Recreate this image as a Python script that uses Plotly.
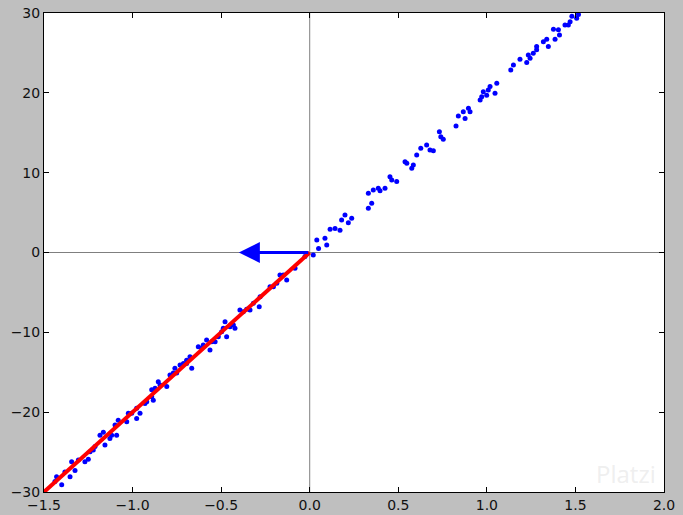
import plotly.graph_objects as go

# scatter data
x_pts = [-1.438, -1.4, -1.429, -1.382, -1.353, -1.344, -1.325, -1.306, -1.269, -1.25,
         -1.24, -1.222, -1.212, -1.184, -1.165, -1.156, -1.128, -1.118, -1.099, -1.09,
         -1.081, -1.033, -1.024, -1.005, -0.977, -0.977, -0.958, -0.93, -0.92, -0.892,
         -0.892, -0.883, -0.873, -0.855, -0.845, -0.807, -0.789, -0.77, -0.761, -0.751,
         -0.732, -0.713, -0.695, -0.695, -0.676, -0.666, -0.629, -0.61, -0.601, -0.582,
         -0.563, -0.553, -0.534, -0.516, -0.497, -0.488, -0.478, -0.469, -0.45, -0.431,
         -0.422, -0.394, -0.375, -0.356, -0.337, -0.318, -0.285, -0.28, -0.224, -0.205,
         -0.186, -0.168, -0.149, -0.13, -0.083, -0.027, 0.02,
         0.04, 0.086, 0.05, 0.096, 0.115, 0.143, 0.171, 0.18, 0.199, 0.237,
         0.218, 0.331, 0.35, 0.331, 0.359, 0.387, 0.397, 0.425, 0.453, 0.463,
         0.491, 0.538, 0.548, 0.576, 0.585, 0.604, 0.627, 0.66, 0.679, 0.698,
         0.732, 0.74, 0.754, 0.826, 0.839, 0.867, 0.877, 0.896, 0.905, 0.962,
         0.971, 0.98, 0.999, 1.008, 1.018, 1.046, 1.056, 1.135, 1.15, 1.187,
         1.225, 1.234, 1.244, 1.262, 1.281, 1.281, 1.319, 1.338, 1.347, 1.376,
         1.404, 1.385, 1.41, 1.441, 1.47, 1.46, 1.48, 1.507, 1.517]
y_pts = [-28.7, -29.1, -28.1, -27.5, -28.1, -26.2, -27.3, -26.0, -26.2, -25.9,
         -24.96, -24.75, -24.3, -22.9, -22.5, -24.1, -23.3, -22.9, -21.6, -22.9,
         -21.0, -21.2, -20.15, -20.15, -19.5, -20.8, -20.15, -18.9, -18.7, -18.07,
         -17.2, -18.5, -17.0, -16.2, -16.6, -16.8, -15.35, -15.1, -14.5, -15.1,
         -14.1, -13.9, -13.5, -13.9, -13.05, -14.5, -11.8, -12.0, -11.6, -10.96,
         -12.2, -11.17, -11.17, -10.55, -9.92, -9.5, -8.67, -10.55, -9.3, -9.08,
         -9.5, -7.2, -7.42, -7.12, -7.2, -6.37, -6.8, -5.54, -4.28, -4.28,
         -3.86, -2.82, -2.82, -3.45, -1.98, -0.5, -0.3,
         1.57, 1.78, 0.5, 0.94, 2.9, 3.0, 2.8, 4.07, 4.7, 4.28,
         3.74, 5.54, 6.16, 7.42, 7.83, 8.04, 7.74, 8.04, 9.5, 9.08,
         8.88, 11.38, 11.17, 10.55, 10.96, 12.2, 13.05, 13.47, 12.84, 12.76,
         15.14, 14.5, 14.18, 15.85, 17.1, 17.64, 16.8, 18.07, 17.64, 19.1,
         19.5, 20.15, 19.7, 20.36, 20.78, 19.95, 21.2, 22.87, 23.5, 24.2,
         23.8, 24.75, 24.33, 24.96, 25.8, 25.4, 26.4, 26.7, 25.8, 27.97,
         27.9, 26.7, 27.25, 28.5, 28.9, 28.5, 29.6, 29.35, 29.8]

# red fitted line
line_x = [-1.5, 0.0]
line_y = [-30.0, 0.0]

# arrow (from origin to tip)
arrow_tail = (0.0, 0.0)
arrow_tip = (-0.4, 0.0)

# axis ticks
x_ticks = [-1.5, -1.0, -0.5, 0.0, 0.5, 1.0, 1.5, 2.0]
y_ticks = [-30, -20, -10, 0, 10, 20, 30]

fig = go.Figure()

fig.add_trace(go.Scatter(x=x_pts, y=y_pts, mode="markers",
                         marker=dict(color="#0000ff", size=5, line=dict(width=0)),
                         showlegend=False))
fig.add_trace(go.Scatter(x=line_x, y=line_y, mode="lines",
                         line=dict(color="#ff0000", width=4),
                         showlegend=False))

# axis lines through origin
fig.add_hline(y=0, line=dict(color="#7f7f7f", width=1), layer="below")
fig.add_vline(x=0, line=dict(color="#7f7f7f", width=1), layer="below")

fig.add_annotation(x=arrow_tip[0], y=arrow_tip[1], ax=arrow_tail[0], ay=arrow_tail[1],
                   xref="x", yref="y", axref="x", ayref="y",
                   showarrow=True, arrowhead=2, arrowsize=1.4, arrowwidth=3,
                   arrowcolor="#0000ff", text="")

# faint watermark
fig.add_annotation(x=0.99, y=0.0, xref="paper", yref="paper", xanchor="right",
                   yanchor="bottom", text="Platzi", showarrow=False,
                   font=dict(family="Open Sans", size=24, color="rgba(225,225,225,0.55)"))

axis_common = dict(showline=True, linecolor="black", linewidth=1, mirror="allticks",
                   ticks="inside", ticklen=5, tickcolor="black", showgrid=False,
                   zeroline=False, automargin=False,
                   tickfont=dict(family="DejaVu Sans", size=14, color="#111"))

fig.update_xaxes(range=[-1.5, 2.0], tickvals=x_ticks,
                 ticktext=[f"{v:.1f}".replace("-", "\u2212") for v in x_ticks], **axis_common)
fig.update_yaxes(range=[-30, 30], tickvals=y_ticks,
                 ticktext=[str(v).replace("-", "\u2212") for v in y_ticks], **axis_common)

fig.update_layout(width=683, height=515, paper_bgcolor="#bfbfbf", plot_bgcolor="white",
                  margin=dict(l=44, r=19, t=13, b=23, pad=0), showlegend=False)

fig.write_html("out.html", config={"displayModeBar": False},
               post_script="document.body.style.margin='0';"
                           "document.body.style.background='#bfbfbf';"
                           "document.body.style.overflow='hidden';")
